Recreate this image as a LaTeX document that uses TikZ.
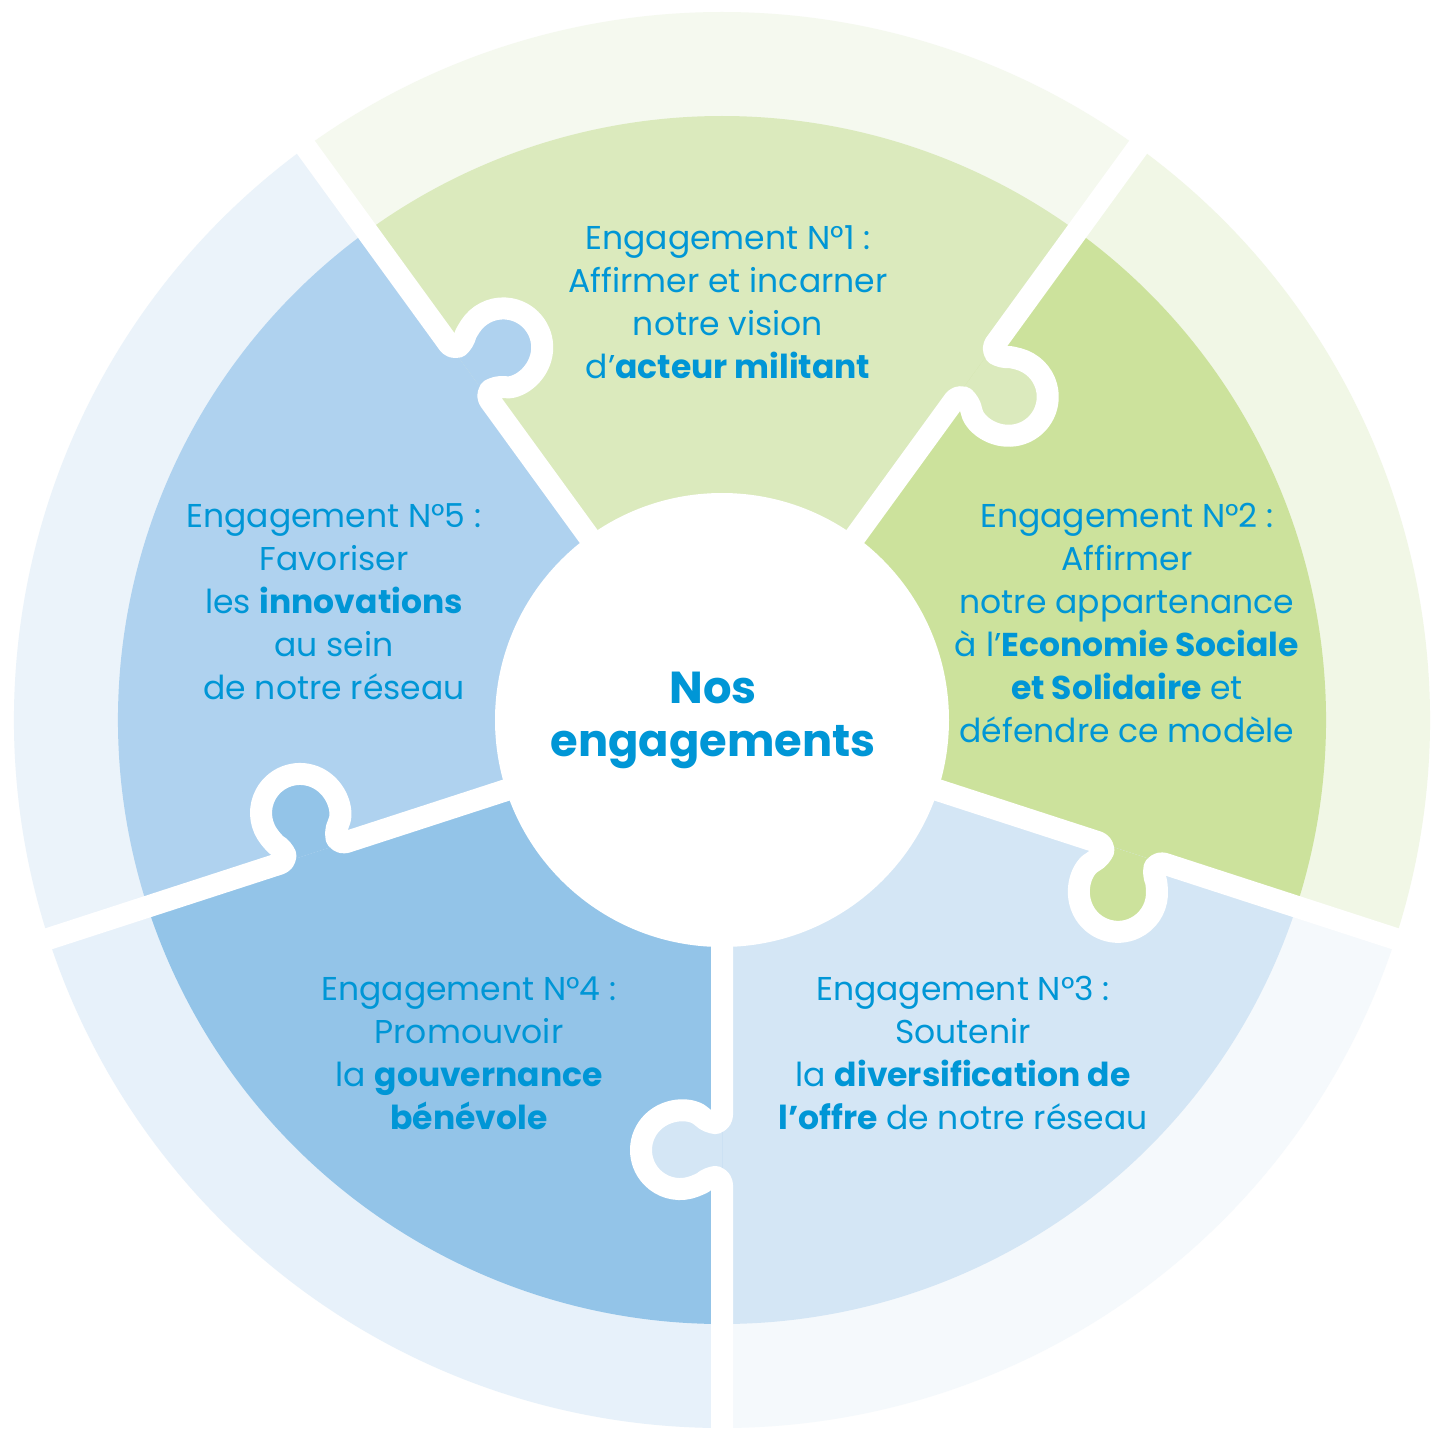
\documentclass[tikz,border=0pt]{standalone}
\usepackage{fontspec}
\setmainfont{Poppins}
\usepackage{tikz}

\begin{document}
\begin{tikzpicture}[x=0.5pt,y=0.5pt,
  gap/.style={draw=white,line width=11pt,line join=round,rounded corners=4pt},
  piecetext/.style={text=textColor,align=center,inner sep=0pt,outer sep=0pt,font=\fontsize{16.5}{21.5}\selectfont},
  hubtext/.style={text=textColor,align=center,inner sep=0pt,outer sep=0pt,font=\fontsize{22.4}{26.5}\selectfont\bfseries}]
\definecolor{textColor}{RGB}{0,150,214}
\definecolor{pieceOne}{RGB}{219,234,189}
\definecolor{pieceTwo}{RGB}{204,226,156}
\definecolor{pieceThree}{RGB}{212,230,245}
\definecolor{pieceFour}{RGB}{147,196,232}
\definecolor{pieceFive}{RGB}{175,210,239}
\definecolor{ringOne}{RGB}{245,249,239}
\definecolor{ringTwo}{RGB}{241,247,230}
\definecolor{ringThree}{RGB}{245,249,252}
\definecolor{ringFour}{RGB}{231,241,250}
\definecolor{ringFive}{RGB}{235,243,250}
\path[use as bounding box,fill=white] (-722,-709) rectangle (732,720);

\path[fill=ringOne] (0,0) -- (54:708) arc[start angle=54,end angle=126,radius=708] -- cycle;
\path[fill=ringTwo] (0,0) -- (-18:708) arc[start angle=-18,end angle=54,radius=708] -- cycle;
\path[fill=ringThree] (0,0) -- (-90:708) arc[start angle=-90,end angle=-18,radius=708] -- cycle;
\path[fill=ringFour] (0,0) -- (-162:708) arc[start angle=-162,end angle=-90,radius=708] -- cycle;
\path[fill=ringFive] (0,0) -- (126:708) arc[start angle=126,end angle=198,radius=708] -- cycle;

\path[fill=pieceOne] (0,0) -- (54:604) arc[start angle=54,end angle=126,radius=604] -- cycle;
\path[fill=pieceTwo] (0,0) -- (-18:604) arc[start angle=-18,end angle=54,radius=604] -- cycle;
\path[fill=pieceThree] (0,0) -- (-90:604) arc[start angle=-90,end angle=-18,radius=604] -- cycle;
\path[fill=pieceFour] (0,0) -- (-162:604) arc[start angle=-162,end angle=-90,radius=604] -- cycle;
\path[fill=pieceFive] (0,0) -- (126:604) arc[start angle=126,end angle=198,radius=604] -- cycle;

\begin{scope}[rotate=126]
\path[fill=pieceFive,rounded corners=4pt] (403,0) -- (403,-13.9) arc[start angle=133.9,end angle=406.1,radius=39] -- (457,0) -- cycle;
\path[gap] (0,0) -- (403,0) -- (403,-13.9) arc[start angle=133.9,end angle=406.1,radius=39] -- (457,0) -- (730,0);
\end{scope}

\begin{scope}[rotate=54]
\path[fill=pieceOne,rounded corners=4pt] (403,0) -- (403,-13.9) arc[start angle=133.9,end angle=406.1,radius=39] -- (457,0) -- cycle;
\path[gap] (0,0) -- (403,0) -- (403,-13.9) arc[start angle=133.9,end angle=406.1,radius=39] -- (457,0) -- (730,0);
\end{scope}

\begin{scope}[rotate=-18]
\path[fill=pieceTwo,rounded corners=4pt] (403,0) -- (403,-13.9) arc[start angle=133.9,end angle=406.1,radius=39] -- (457,0) -- cycle;
\path[gap] (0,0) -- (403,0) -- (403,-13.9) arc[start angle=133.9,end angle=406.1,radius=39] -- (457,0) -- (730,0);
\end{scope}

\begin{scope}[rotate=-90]
\path[fill=pieceThree,rounded corners=4pt] (403,0) -- (403,-13.9) arc[start angle=133.9,end angle=406.1,radius=39] -- (457,0) -- cycle;
\path[gap] (0,0) -- (403,0) -- (403,-13.9) arc[start angle=133.9,end angle=406.1,radius=39] -- (457,0) -- (730,0);
\end{scope}

\begin{scope}[rotate=-162]
\path[fill=pieceFour,rounded corners=4pt] (403,0) -- (403,-13.9) arc[start angle=133.9,end angle=406.1,radius=39] -- (457,0) -- cycle;
\path[gap] (0,0) -- (403,0) -- (403,-13.9) arc[start angle=133.9,end angle=406.1,radius=39] -- (457,0) -- (730,0);
\end{scope}

\path[fill=white] (0,0) circle[radius=227];

\node[hubtext] (hub) at (-9,0) {Nos\\engagements};

\node[piecetext] (one) at (6,418) {Engagement N°1 :\\Affirmer et incarner\\notre vision\\d’\textbf{acteur militant}};

\node[piecetext] (two) at (405,97) {Engagement N°2 :\\Affirmer\\notre appartenance\\à l’\textbf{Economie Sociale}\\\textbf{et Solidaire} et\\défendre ce modèle};

\node[piecetext] (three) at (241,-333) {Engagement N°3 :\\Soutenir\\la \textbf{diversification de}\\\textbf{l’offre} de notre réseau};

\node[piecetext] (four) at (-253,-333) {Engagement N°4 :\\Promouvoir\\la \textbf{gouvernance}\\\textbf{bénévole}};

\node[piecetext] (five) at (-388,118) {Engagement N°5 :\\Favoriser\\les \textbf{innovations}\\au sein\\de notre réseau};
\end{tikzpicture}
\end{document}
